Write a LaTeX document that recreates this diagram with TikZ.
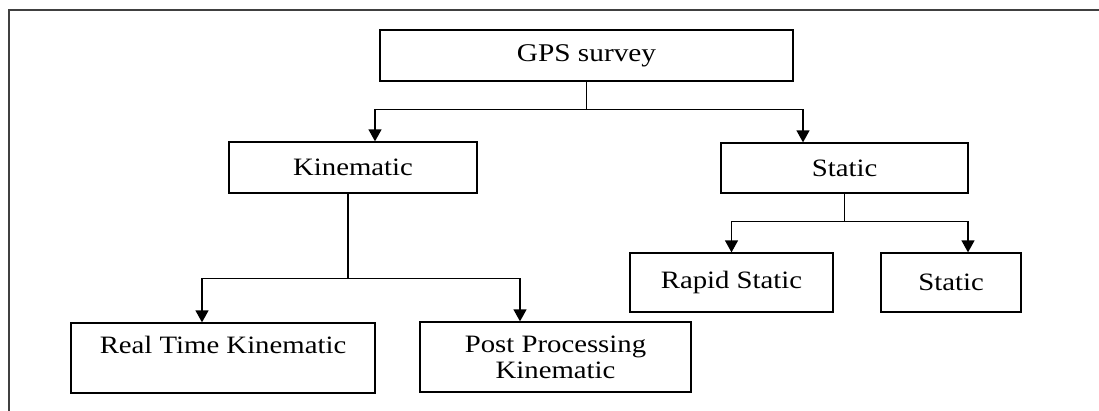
\documentclass[tikz,border=0pt]{standalone}
\usepackage{fontspec}
\setmainfont{Liberation Serif}[FakeStretch=1.15]
\usetikzlibrary{arrows.meta}
\tikzset{
	box/.style={draw, line width=1.3pt, inner sep=0pt, align=center, font=\fontsize{25}{26}\selectfont},
	arr/.style={line width=1.3pt, -{Triangle[width=13pt,length=12pt]}},
	link/.style={line width=1.3pt}
}
\begin{document}
\begin{tikzpicture}[x=1pt,y=-1pt]
	\useasboundingbox (0,0) rectangle (1099,410);
	%frame--------------------------------------
	\draw[line width=1.4pt, draw=black!75] (9,430) -- (9,10) -- (1120,10); %outer frame
	%boxes--------------------------------------
	\node[box, minimum width=413pt, minimum height=51pt, font=\fontsize{25.5}{27}\selectfont] (gps) at (586.5,55.5) {GPS survey}; %root
	\node[box, minimum width=248pt, minimum height=51pt] (kin) at (353,167.5) {Kinematic}; %kinematic
	\node[box, minimum width=247pt, minimum height=50pt] (stat) at (844.5,168) {Static}; %static
	\node[box, minimum width=203pt, minimum height=59pt] (rapid) at (731.5,282.5) {Rapid Static}; %rapid static
	\node[box, minimum width=140pt, minimum height=59pt] (statb) at (951,282.5) {Static}; %static b
	\node[box, minimum width=304pt, minimum height=70pt] (rtk) at (223,358) {Real Time Kinematic\\\mbox{}}; %rtk
	\node[box, minimum width=271pt, minimum height=70pt] (ppk) at (555.5,357) {Post Processing\\Kinematic}; %ppk
	%connectors---------------------------------
	\draw[link] (gps.south) -- ++(0,28) coordinate (gpsfork); %root stem
	\draw[arr] (gpsfork) -| ([xshift=22pt]kin.north); %to kinematic
	\draw[arr] (gpsfork) -| ([xshift=-41.5pt]stat.north); %to static
	\draw[link] ([xshift=-5pt]kin.south) -- ++(0,85) coordinate (kinfork); %kinematic stem
	\draw[arr] (kinfork) -| ([xshift=-21pt]rtk.north); %to rtk
	\draw[arr] (kinfork) -| ([xshift=-35.5pt]ppk.north); %to ppk
	\draw[link] (stat.south) -- ++(0,28) coordinate (statfork); %static stem
	\draw[arr] (statfork) -| (rapid.north); %to rapid static
	\draw[arr] (statfork) -| ([xshift=17pt]statb.north); %to static b
\end{tikzpicture}
\end{document}
